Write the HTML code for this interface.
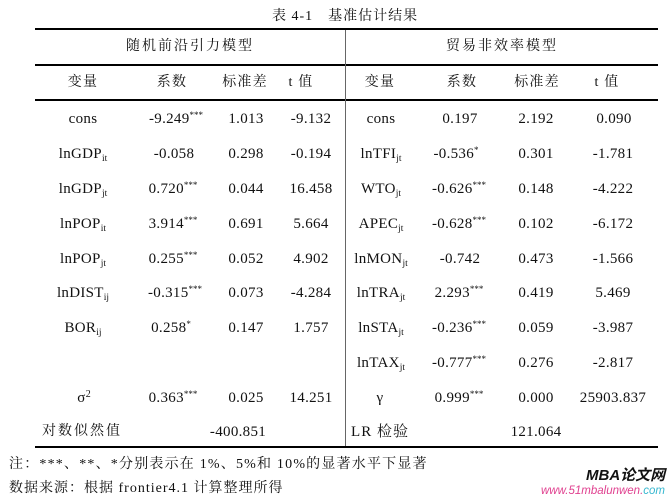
<!DOCTYPE html>
<html><head><meta charset="utf-8"><style>
html,body{margin:0;padding:0;background:#fff;}
#w{position:relative;width:672px;height:498px;overflow:hidden;background:#fff;font-family:"Liberation Serif","Noto Serif CJK SC",serif;color:#111;}
.c{position:absolute;transform:translateX(-50%);white-space:nowrap;line-height:20px;font-size:15px;letter-spacing:0.3px;}
.l{position:absolute;white-space:nowrap;line-height:20px;font-size:15px;}
.z{font-size:14px;letter-spacing:1.2px;}
sub{font-size:9.5px;vertical-align:-3px;line-height:0;letter-spacing:0;}
sup{font-size:9px;vertical-align:5px;line-height:0;letter-spacing:0;}
.hl{position:absolute;left:35px;width:623px;height:2px;background:#000;}
.vl{position:absolute;left:345px;width:1px;top:30px;height:416px;background:#666;}
#t{position:absolute;left:0;top:1px;width:672px;height:498px;}
</style></head><body><div id="w">
<div class="l z" style="left:272px;top:7px;letter-spacing:1px;">表 4-1　基准估计结果</div>
<div class="hl" style="top:28px"></div>
<div class="hl" style="top:64px"></div>
<div class="hl" style="top:99px"></div>
<div class="hl" style="top:446px"></div>
<div class="vl"></div>
<div id="t">
<div class="c z" style="left:190px;top:36px;letter-spacing:2px;">随机前沿引力模型</div>
<div class="c z" style="left:502px;top:36px;letter-spacing:2px;">贸易非效率模型</div>

<div class="c z" style="left:83px;top:72px">变量</div>
<div class="c z" style="left:172px;top:72px">系数</div>
<div class="c z" style="left:245px;top:72px">标准差</div>
<div class="c z" style="left:301px;top:72px">t 值</div>
<div class="c z" style="left:380px;top:72px">变量</div>
<div class="c z" style="left:462px;top:72px">系数</div>
<div class="c z" style="left:537px;top:72px">标准差</div>
<div class="c z" style="left:607px;top:72px">t 值</div>

<div class="c" style="left:83px;top:108px">cons</div>
<div class="c" style="left:176px;top:108px">-9.249<sup>***</sup></div>
<div class="c" style="left:246px;top:108px">1.013</div>
<div class="c" style="left:311px;top:108px">-9.132</div>

<div class="c" style="left:83px;top:143px">lnGDP<sub>it</sub></div>
<div class="c" style="left:174px;top:143px">-0.058</div>
<div class="c" style="left:246px;top:143px">0.298</div>
<div class="c" style="left:311px;top:143px">-0.194</div>

<div class="c" style="left:83px;top:178px">lnGDP<sub>jt</sub></div>
<div class="c" style="left:173px;top:178px">0.720<sup>***</sup></div>
<div class="c" style="left:246px;top:178px">0.044</div>
<div class="c" style="left:311px;top:178px">16.458</div>

<div class="c" style="left:83px;top:213px">lnPOP<sub>it</sub></div>
<div class="c" style="left:173px;top:213px">3.914<sup>***</sup></div>
<div class="c" style="left:246px;top:213px">0.691</div>
<div class="c" style="left:311px;top:213px">5.664</div>

<div class="c" style="left:83px;top:248px">lnPOP<sub>jt</sub></div>
<div class="c" style="left:173px;top:248px">0.255<sup>***</sup></div>
<div class="c" style="left:246px;top:248px">0.052</div>
<div class="c" style="left:311px;top:248px">4.902</div>

<div class="c" style="left:83px;top:282px">lnDIST<sub>ij</sub></div>
<div class="c" style="left:175px;top:282px">-0.315<sup>***</sup></div>
<div class="c" style="left:246px;top:282px">0.073</div>
<div class="c" style="left:311px;top:282px">-4.284</div>

<div class="c" style="left:83px;top:317px">BOR<sub>ij</sub></div>
<div class="c" style="left:171px;top:317px">0.258<sup>*</sup></div>
<div class="c" style="left:246px;top:317px">0.147</div>
<div class="c" style="left:311px;top:317px">1.757</div>

<div class="c" style="left:84px;top:387px">σ<sup style="font-size:10px">2</sup></div>
<div class="c" style="left:173px;top:387px">0.363<sup>***</sup></div>
<div class="c" style="left:246px;top:387px">0.025</div>
<div class="c" style="left:311px;top:387px">14.251</div>

<div class="c z" style="left:82px;top:421px;letter-spacing:2px;">对数似然值</div>
<div class="c" style="left:238px;top:421px">-400.851</div>

<div class="c" style="left:381px;top:108px">cons</div>
<div class="c" style="left:460px;top:108px">0.197</div>
<div class="c" style="left:536px;top:108px">2.192</div>
<div class="c" style="left:614px;top:108px">0.090</div>

<div class="c" style="left:381px;top:143px">lnTFI<sub>jt</sub></div>
<div class="c" style="left:456px;top:143px">-0.536<sup>*</sup></div>
<div class="c" style="left:536px;top:143px">0.301</div>
<div class="c" style="left:613px;top:143px">-1.781</div>

<div class="c" style="left:381px;top:178px">WTO<sub>jt</sub></div>
<div class="c" style="left:459px;top:178px">-0.626<sup>***</sup></div>
<div class="c" style="left:536px;top:178px">0.148</div>
<div class="c" style="left:613px;top:178px">-4.222</div>

<div class="c" style="left:381px;top:213px">APEC<sub>jt</sub></div>
<div class="c" style="left:459px;top:213px">-0.628<sup>***</sup></div>
<div class="c" style="left:536px;top:213px">0.102</div>
<div class="c" style="left:613px;top:213px">-6.172</div>

<div class="c" style="left:381px;top:248px">lnMON<sub>jt</sub></div>
<div class="c" style="left:460px;top:248px">-0.742</div>
<div class="c" style="left:536px;top:248px">0.473</div>
<div class="c" style="left:613px;top:248px">-1.566</div>

<div class="c" style="left:381px;top:282px">lnTRA<sub>jt</sub></div>
<div class="c" style="left:459px;top:282px">2.293<sup>***</sup></div>
<div class="c" style="left:536px;top:282px">0.419</div>
<div class="c" style="left:613px;top:282px">5.469</div>

<div class="c" style="left:381px;top:317px">lnSTA<sub>jt</sub></div>
<div class="c" style="left:459px;top:317px">-0.236<sup>***</sup></div>
<div class="c" style="left:536px;top:317px">0.059</div>
<div class="c" style="left:613px;top:317px">-3.987</div>

<div class="c" style="left:381px;top:352px">lnTAX<sub>jt</sub></div>
<div class="c" style="left:459px;top:352px">-0.777<sup>***</sup></div>
<div class="c" style="left:536px;top:352px">0.276</div>
<div class="c" style="left:613px;top:352px">-2.817</div>

<div class="c" style="left:380px;top:387px">γ</div>
<div class="c" style="left:459px;top:387px">0.999<sup>***</sup></div>
<div class="c" style="left:536px;top:387px">0.000</div>
<div class="c" style="left:613px;top:387px">25903.837</div>

<div class="c" style="left:380px;top:421px;letter-spacing:1px;">LR 检验</div>
<div class="c" style="left:536px;top:421px">121.064</div>
</div>

<div class="l" style="left:9px;top:455px;font-size:14px;letter-spacing:1.2px;">注：***、**、*分别表示在 1%、5%和 10%的显著水平下显著</div>
<div class="l" style="left:9px;top:479px;font-size:14px;letter-spacing:1px;">数据来源：根据 frontier4.1 计算整理所得</div>

<div class="l" style="left:586px;top:467px;font-family:'Liberation Sans','Noto Sans CJK SC',sans-serif;font-weight:bold;font-style:italic;font-size:15px;color:#111;line-height:18px;">MBA论文网</div>
<div class="l" style="left:541px;top:484px;font-family:'Liberation Sans',sans-serif;font-style:italic;font-size:11.5px;line-height:14px;color:#e0408f;">www.51mbalunwen.<span style="color:#38b8d0">com</span></div>
</div></body></html>
